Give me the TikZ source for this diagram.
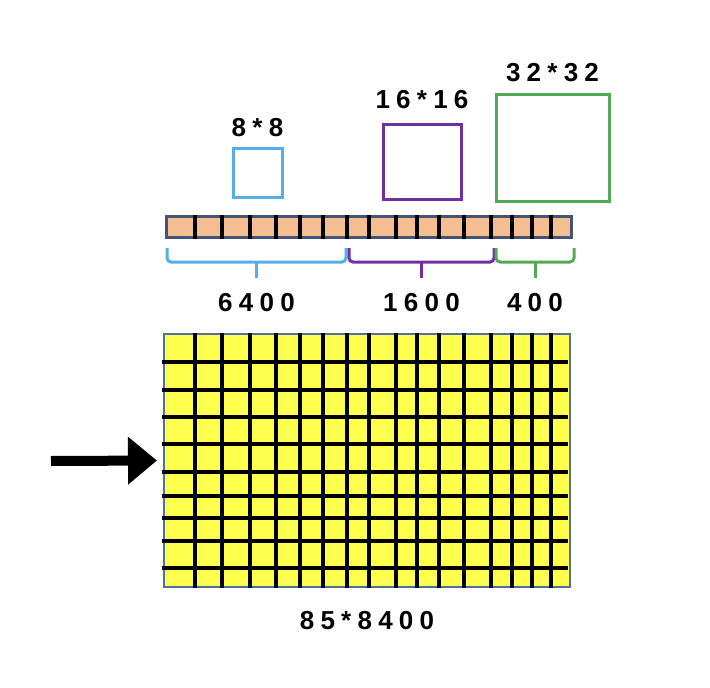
\documentclass[tikz,border=0pt]{standalone}
\usepackage{fontspec}
\newfontfamily\numfont[LetterSpace=24]{Liberation Sans}
\usetikzlibrary{shapes, calc, arrows.meta, positioning}

\definecolor{boxblue}{RGB}{86,174,232}
\definecolor{boxpurple}{RGB}{112,48,160}
\definecolor{boxgreen}{RGB}{84,170,84}
\definecolor{stripfill}{RGB}{244,190,146}
\definecolor{stripedge}{RGB}{68,84,120}
\definecolor{gridyellow}{RGB}{255,255,77}
\definecolor{gridedge}{RGB}{84,110,160}

\tikzset{
  sizebox/.style={draw=#1, line width=3pt, rectangle, inner sep=0pt},
  numlabel/.style={font=\numfont\bfseries\fontsize{26}{30}\selectfont, inner sep=2pt},
  bracket/.style={draw=#1, line width=3pt, rounded corners=4pt},
  cellline/.style={line width=3.5pt, black},
}

\begin{document}
\begin{tikzpicture}[x=1pt, y=-1pt, >=Latex]
    \useasboundingbox (0,0) rectangle (710,688);

    \node[sizebox=boxblue, minimum width=49pt, minimum height=49pt] at (257.5,172.5) (sq8) {};
    \node[sizebox=boxpurple, minimum width=78pt, minimum height=75pt] at (422,161.5) (sq16) {};
    \node[sizebox=boxgreen, minimum width=113pt, minimum height=107pt] at (552.5,147.5) (sq32) {};
    \node[numlabel, above=8pt of sq8] (lab8) {8*8};
    \node[numlabel, above=12pt of sq16] (lab16) {16*16};
    \node[numlabel, above=9pt of sq32] (lab32) {32*32};

    \node[draw=stripedge, fill=stripfill, line width=3pt, inner sep=0pt,
      minimum width=405pt, minimum height=21pt] at (368.5,226.5) (strip) {};
    \foreach \x in {195, 222, 250, 276, 300, 323, 347, 369, 396, 417, 439, 464, 491, 512, 532, 551} {
        \draw[cellline] (\x,0 |- strip.north) -- (\x,0 |- strip.south);
    };

    \foreach \a/\b/\c/\n in {167/346/boxblue/6400, 349/494/boxpurple/1600, 496/574/boxgreen/400} {
        \draw[bracket=\c] (\a,248) -- (\a,262) -- (\b,262) -- (\b,248);
        \draw[bracket=\c] ({(\a+\b)/2},262) -- ({(\a+\b)/2},278) coordinate (tip\n);
        \node[numlabel, below=13pt of tip\n] (lab\n) {\n};
    };

    \node[draw=gridedge, fill=gridyellow, line width=2pt, inner sep=0pt,
      minimum width=406pt, minimum height=253pt] at (367,460.5) (grid) {};
    \foreach \x in {195, 222, 250, 276, 300, 323, 347, 369, 396, 417, 439, 464, 491, 512, 532, 551} {
        \draw[cellline] (\x,0 |- grid.north) -- (\x,0 |- grid.south);
    };
    \foreach \y in {362, 390, 417, 444, 472, 496, 518, 541, 568} {
        \draw[cellline] (161.5,\y) -- (568,\y);
    };
    \node[numlabel, below=21pt of grid] (labgrid) {85*8400};

    \coordinate (tail) at (51,461);
    \draw[line width=10pt, -{Triangle[length=29pt, width=46pt]}, shorten >=6pt] (tail) -- (grid.west);
\end{tikzpicture}
\end{document}
